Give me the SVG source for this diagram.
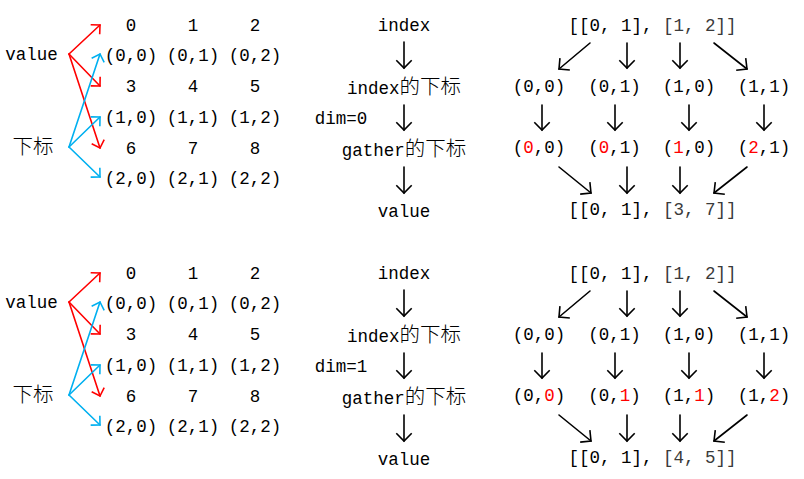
<svg xmlns="http://www.w3.org/2000/svg" width="804" height="479" viewBox="0 0 804 479">
<defs>
<style>
text{font-family:"Liberation Mono","Noto Sans CJK SC",monospace;font-size:17.5px;fill:#000;text-anchor:middle}
.cjk{font-family:"Noto Sans CJK SC","Liberation Sans",sans-serif;font-size:20.5px;font-weight:300}
.r{fill:#ff0000}
.g{fill:#3a3a3a}
.ln{fill:none;stroke-width:1.6;stroke-linecap:round}
.red{stroke:#ff0000}
.blue{stroke:#00b0f0}
.blk{stroke:#000}
</style>
<marker id="aR" viewBox="-10 -10 20 20" refX="0" refY="0" markerWidth="20" markerHeight="20" markerUnits="userSpaceOnUse" orient="auto"><path d="M-6.6,-6.6 L0,0 L-6.6,6.6" fill="none" stroke="#ff0000" stroke-width="1.6"/></marker>
<marker id="aB" viewBox="-10 -10 20 20" refX="0" refY="0" markerWidth="20" markerHeight="20" markerUnits="userSpaceOnUse" orient="auto"><path d="M-6.6,-6.6 L0,0 L-6.6,6.6" fill="none" stroke="#00b0f0" stroke-width="1.6"/></marker>
<marker id="aK" viewBox="-10 -10 20 20" refX="0" refY="0" markerWidth="20" markerHeight="20" markerUnits="userSpaceOnUse" orient="auto"><path d="M-7.7,-7.7 L0,0 L-7.7,7.7" fill="none" stroke="#000" stroke-width="1.6"/></marker>
</defs>

<!-- ===== TOP PANEL ===== -->
<g id="t-left-labels">
<text id="t-value" x="31.5" y="60">value</text>
<text id="t-xiabiao" class="cjk" x="33" y="154">下标</text>
</g>
<g id="t-grid">
<text x="131" y="31">0</text><text x="193" y="31">1</text><text x="255" y="31">2</text>
<text x="131" y="61">(0,0)</text><text x="193" y="61">(0,1)</text><text x="255" y="61">(0,2)</text>
<text x="131" y="92">3</text><text x="193" y="92">4</text><text x="255" y="92">5</text>
<text x="131" y="123">(1,0)</text><text x="193" y="123">(1,1)</text><text x="255" y="123">(1,2)</text>
<text x="131" y="154">6</text><text x="193" y="154">7</text><text x="255" y="154">8</text>
<text x="131" y="184">(2,0)</text><text x="193" y="184">(2,1)</text><text x="255" y="184">(2,2)</text>
</g>
<g id="t-mid">
<text id="t-index" x="404" y="31">index</text>
<text id="t-index-sub" x="404" y="94">index<tspan class="cjk">的下标</tspan></text>
<text id="t-dim" x="341" y="124">dim=0</text>
<text id="t-gather-sub" x="404" y="156">gather<tspan class="cjk">的下标</tspan></text>
<text id="t-mvalue" x="404" y="217">value</text>
</g>
<g id="t-right">
<text id="t-idx" x="652.5" y="31">[[0, 1], <tspan class="g">[1, 2]]</tspan></text>
<text x="539" y="92">(0,0)</text><text x="614.5" y="92">(0,1)</text><text x="689" y="92">(1,0)</text><text x="764" y="92">(1,1)</text>
<text x="539" y="153">(<tspan class="r">0</tspan>,0)</text><text x="614.5" y="153">(<tspan class="r">0</tspan>,1)</text><text x="689" y="153">(<tspan class="r">1</tspan>,0)</text><text x="764" y="153">(<tspan class="r">2</tspan>,1)</text>
<text id="t-res" x="652.5" y="215">[[0, 1], <tspan class="g">[3, 7]]</tspan></text>
</g>

<!-- ===== BOTTOM PANEL ===== -->
<g id="b-left-labels">
<text id="b-value" x="31.5" y="308">value</text>
<text id="b-xiabiao" class="cjk" x="33" y="402">下标</text>
</g>
<g id="b-grid">
<text x="131" y="279">0</text><text x="193" y="279">1</text><text x="255" y="279">2</text>
<text x="131" y="309">(0,0)</text><text x="193" y="309">(0,1)</text><text x="255" y="309">(0,2)</text>
<text x="131" y="340">3</text><text x="193" y="340">4</text><text x="255" y="340">5</text>
<text x="131" y="371">(1,0)</text><text x="193" y="371">(1,1)</text><text x="255" y="371">(1,2)</text>
<text x="131" y="402">6</text><text x="193" y="402">7</text><text x="255" y="402">8</text>
<text x="131" y="432">(2,0)</text><text x="193" y="432">(2,1)</text><text x="255" y="432">(2,2)</text>
</g>
<g id="b-mid">
<text id="b-index" x="404" y="279">index</text>
<text id="b-index-sub" x="404" y="342">index<tspan class="cjk">的下标</tspan></text>
<text id="b-dim" x="341" y="372">dim=1</text>
<text id="b-gather-sub" x="404" y="404">gather<tspan class="cjk">的下标</tspan></text>
<text id="b-mvalue" x="404" y="465">value</text>
</g>
<g id="b-right">
<text id="b-idx" x="652.5" y="279">[[0, 1], <tspan class="g">[1, 2]]</tspan></text>
<text x="539" y="340">(0,0)</text><text x="614.5" y="340">(0,1)</text><text x="689" y="340">(1,0)</text><text x="764" y="340">(1,1)</text>
<text x="539" y="401">(0,<tspan class="r">0</tspan>)</text><text x="614.5" y="401">(0,<tspan class="r">1</tspan>)</text><text x="689" y="401">(1,<tspan class="r">1</tspan>)</text><text x="764" y="401">(1,<tspan class="r">2</tspan>)</text>
<text id="b-res" x="652.5" y="463">[[0, 1], <tspan class="g">[4, 5]]</tspan></text>
</g>

<g id="connectors">
<!-- top left -->
<path class="ln red" d="M69,54 L100,25" marker-end="url(#aR)"/>
<path class="ln red" d="M69,54 L100,86" marker-end="url(#aR)"/>
<path class="ln red" d="M69,54 L100,148" marker-end="url(#aR)"/>
<path class="ln blue" d="M69,147 L100,54" marker-end="url(#aB)"/>
<path class="ln blue" d="M69,147 L100,117" marker-end="url(#aB)"/>
<path class="ln blue" d="M69,147 L100,177" marker-end="url(#aB)"/>
<!-- top mid -->
<path class="ln blk" d="M404,42 L404,68" marker-end="url(#aK)"/>
<path class="ln blk" d="M404,105 L404,130" marker-end="url(#aK)"/>
<path class="ln blk" d="M404,167 L404,193" marker-end="url(#aK)"/>
<!-- top right -->
<path class="ln blk" d="M590,43 L559,69" marker-end="url(#aK)"/>
<path class="ln blk" d="M627,43 L627,68" marker-end="url(#aK)"/>
<path class="ln blk" d="M680,43 L680,68" marker-end="url(#aK)"/>
<path class="ln blk" d="M714,43 L747,69" marker-end="url(#aK)"/>
<path class="ln blk" d="M542,105 L542,130" marker-end="url(#aK)"/>
<path class="ln blk" d="M615,105 L615,130" marker-end="url(#aK)"/>
<path class="ln blk" d="M689,105 L689,130" marker-end="url(#aK)"/>
<path class="ln blk" d="M764,105 L764,130" marker-end="url(#aK)"/>
<path class="ln blk" d="M559,167 L591,193" marker-end="url(#aK)"/>
<path class="ln blk" d="M627,167 L627,193" marker-end="url(#aK)"/>
<path class="ln blk" d="M680,167 L680,193" marker-end="url(#aK)"/>
<path class="ln blk" d="M747,167 L714,193" marker-end="url(#aK)"/>
<!-- bottom left -->
<path class="ln red" d="M69,302 L100,273" marker-end="url(#aR)"/>
<path class="ln red" d="M69,302 L100,334" marker-end="url(#aR)"/>
<path class="ln red" d="M69,302 L100,396" marker-end="url(#aR)"/>
<path class="ln blue" d="M69,395 L100,302" marker-end="url(#aB)"/>
<path class="ln blue" d="M69,395 L100,365" marker-end="url(#aB)"/>
<path class="ln blue" d="M69,395 L100,425" marker-end="url(#aB)"/>
<!-- bottom mid -->
<path class="ln blk" d="M404,290 L404,316" marker-end="url(#aK)"/>
<path class="ln blk" d="M404,353 L404,378" marker-end="url(#aK)"/>
<path class="ln blk" d="M404,415 L404,441" marker-end="url(#aK)"/>
<!-- bottom right -->
<path class="ln blk" d="M590,291 L559,317" marker-end="url(#aK)"/>
<path class="ln blk" d="M627,291 L627,316" marker-end="url(#aK)"/>
<path class="ln blk" d="M680,291 L680,316" marker-end="url(#aK)"/>
<path class="ln blk" d="M714,291 L747,317" marker-end="url(#aK)"/>
<path class="ln blk" d="M542,353 L542,378" marker-end="url(#aK)"/>
<path class="ln blk" d="M615,353 L615,378" marker-end="url(#aK)"/>
<path class="ln blk" d="M689,353 L689,378" marker-end="url(#aK)"/>
<path class="ln blk" d="M764,353 L764,378" marker-end="url(#aK)"/>
<path class="ln blk" d="M559,415 L591,441" marker-end="url(#aK)"/>
<path class="ln blk" d="M627,415 L627,441" marker-end="url(#aK)"/>
<path class="ln blk" d="M680,415 L680,441" marker-end="url(#aK)"/>
<path class="ln blk" d="M747,415 L714,441" marker-end="url(#aK)"/>
</g>
</svg>
